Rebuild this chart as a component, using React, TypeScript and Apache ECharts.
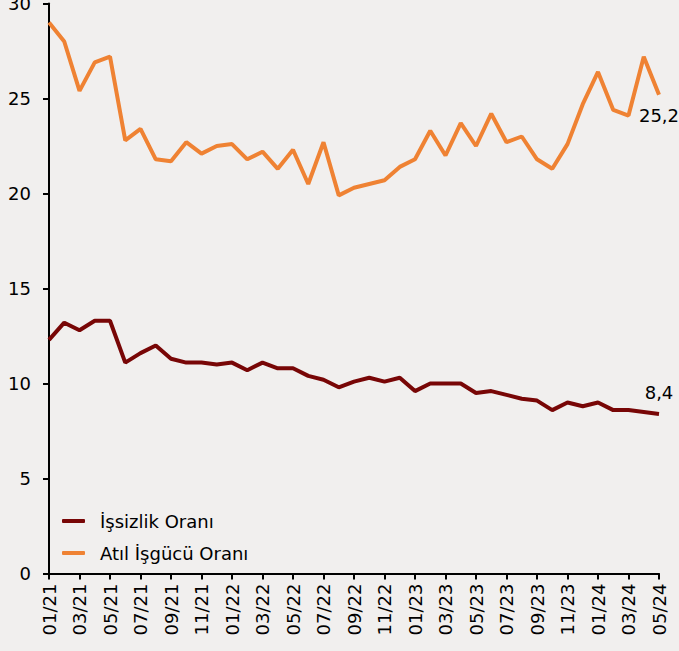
import React, { useEffect, useRef } from "react";
import * as echarts from "echarts";

const months = [
  "01/21","02/21","03/21","04/21","05/21","06/21","07/21","08/21","09/21","10/21","11/21","12/21",
  "01/22","02/22","03/22","04/22","05/22","06/22","07/22","08/22","09/22","10/22","11/22","12/22",
  "01/23","02/23","03/23","04/23","05/23","06/23","07/23","08/23","09/23","10/23","11/23","12/23",
  "01/24","02/24","03/24","04/24","05/24",
];

const issizlik = [
  12.3, 13.2, 12.8, 13.3, 13.3, 11.1, 11.6, 12.0, 11.3, 11.1, 11.1, 11.0,
  11.1, 10.7, 11.1, 10.8, 10.8, 10.4, 10.2, 9.8, 10.1, 10.3, 10.1, 10.3,
  9.6, 10.0, 10.0, 10.0, 9.5, 9.6, 9.4, 9.2, 9.1, 8.6, 9.0, 8.8,
  9.0, 8.6, 8.6, 8.5, 8.4,
];

const atil = [
  29.0, 28.0, 25.4, 26.9, 27.2, 22.8, 23.4, 21.8, 21.7, 22.7, 22.1, 22.5,
  22.6, 21.8, 22.2, 21.3, 22.3, 20.5, 22.7, 19.9, 20.3, 20.5, 20.7, 21.4,
  21.8, 23.3, 22.0, 23.7, 22.5, 24.2, 22.7, 23.0, 21.8, 21.3, 22.6, 24.7,
  26.4, 24.4, 24.1, 27.2, 25.2,
];

const FONT = "DejaVu Sans";

export default function App() {
  const ref = useRef<HTMLDivElement>(null);
  useEffect(() => {
    document.body.style.margin = "0";
    const chart = echarts.init(ref.current!, null, { renderer: "svg" });
    const mk = (arr: number[], pos: "top" | "bottom", dist: number) =>
      arr.map((v, i) =>
        i === arr.length - 1
          ? {
              value: v,
              label: {
                show: true,
                position: pos,
                distance: dist,
                formatter: String(v).replace(".", ","),
                fontFamily: FONT,
                fontSize: 18,
                color: "#000",
              },
            }
          : v
      );
    chart.setOption({
      animation: false,
      backgroundColor: "#f1efee",
      textStyle: { fontFamily: FONT },
      grid: {
        left: 49,
        right: 20,
        top: 3.5,
        bottom: 77.5,
        containLabel: false,
        outerBoundsMode: "none",
      },
      legend: {
        orient: "vertical",
        left: 57,
        top: 507,
        itemWidth: 23,
        itemHeight: 4,
        itemGap: 14,
        icon: "roundRect",
        textStyle: { fontFamily: FONT, fontSize: 18, color: "#000", padding: [0, 0, 0, 10] },
        data: ["İşsizlik Oranı", "Atıl İşgücü Oranı"],
      },
      xAxis: {
        type: "category",
        data: months,
        boundaryGap: false,
        axisLine: { lineStyle: { color: "#000", width: 2 } },
        axisTick: { show: true, interval: 1, length: 6, lineStyle: { color: "#000", width: 2 } },
        axisLabel: {
          interval: 1,
          rotate: 90,
          margin: 10,
          fontFamily: FONT,
          fontSize: 18,
          color: "#000",
        },
      },
      yAxis: {
        type: "value",
        min: 0,
        max: 30,
        interval: 5,
        splitLine: { show: false },
        axisLine: { show: true, lineStyle: { color: "#000", width: 2 } },
        axisTick: { show: true, length: 6, lineStyle: { color: "#000", width: 2 } },
        axisLabel: { margin: 18, fontFamily: FONT, fontSize: 18, color: "#000" },
      },
      series: [
        {
          name: "İşsizlik Oranı",
          type: "line",
          data: mk(issizlik, "top", 12),
          symbol: "circle",
          symbolSize: 0,
          showSymbol: true,
          lineStyle: { color: "#780606", width: 4 },
          itemStyle: { color: "#780606" },
          z: 3,
        },
        {
          name: "Atıl İşgücü Oranı",
          type: "line",
          data: mk(atil, "bottom", 12),
          symbol: "circle",
          symbolSize: 0,
          showSymbol: true,
          lineStyle: { color: "#ef8233", width: 4 },
          itemStyle: { color: "#ef8233" },
          z: 2,
        },
      ],
    });
    return () => chart.dispose();
  }, []);
  return <div ref={ref} style={{ width: 679, height: 651 }} />;
}
